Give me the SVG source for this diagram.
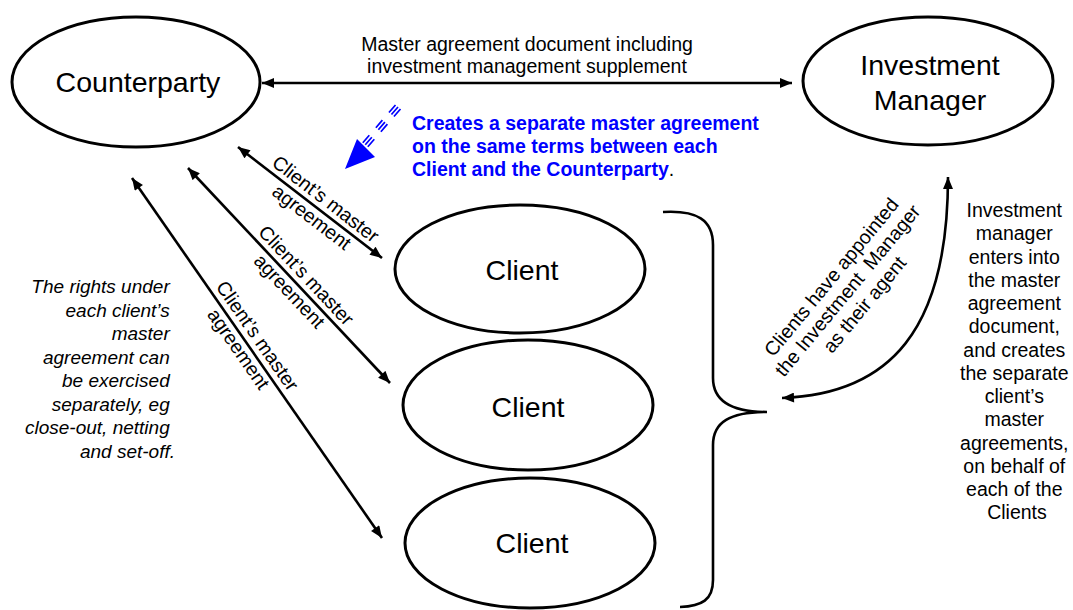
<svg xmlns="http://www.w3.org/2000/svg" width="1073" height="610" viewBox="0 0 1073 610">
<defs>
<style>
.node{fill:#fff;stroke:#000;stroke-width:3}
.nl{font-family:"Liberation Sans",Arial,sans-serif;font-size:28.5px;fill:#000;text-anchor:middle}
.lbl{font-family:"Liberation Sans",Arial,sans-serif;font-size:19.5px;fill:#000;text-anchor:middle}
.conn{fill:none;stroke:#000;stroke-width:2.6}
.blue{font-family:"Liberation Sans",Arial,sans-serif;font-size:19.5px;font-weight:bold;fill:#0000ff}
.ital{font-family:"Liberation Sans",Arial,sans-serif;font-size:19px;font-style:italic;fill:#000;text-anchor:end}
</style>
<marker id="ah" viewBox="0 0 12 10" refX="12" refY="5" markerWidth="13" markerHeight="10" markerUnits="userSpaceOnUse" orient="auto-start-reverse">
<path d="M0,0 L12,5 L0,10 z" fill="#000"/>
</marker>
</defs>
<rect width="1073" height="610" fill="#fff"/>

<g id="connectors">
<line class="conn" x1="262" y1="83" x2="792" y2="83" stroke-width="3" marker-start="url(#ah)" marker-end="url(#ah)"/>
<line class="conn" x1="238" y1="147" x2="382" y2="258" marker-start="url(#ah)" marker-end="url(#ah)"/>
<line class="conn" x1="188" y1="168" x2="390" y2="383" marker-start="url(#ah)" marker-end="url(#ah)"/>
<line class="conn" x1="132" y1="178" x2="382" y2="538" marker-start="url(#ah)" marker-end="url(#ah)"/>
<path class="conn" d="M948,177 C948,330 890,394 782,398" stroke-width="3" marker-start="url(#ah)" marker-end="url(#ah)"/>
<path class="conn" d="M663,212 C697,210 713,220 713,245 L713,378 C713,400 730,412 767,412 C730,412 713,422 713,445 L713,580 C713,600 702,606 680,607" stroke-width="3"/>
<g id="blue-arrow" stroke="#0000ff" stroke-width="1.7" stroke-dasharray="10 10">
<line x1="395.5" y1="105" x2="362" y2="143.7"/>
<line x1="398" y1="107" x2="364.5" y2="145.7"/>
<line x1="400.5" y1="109" x2="367" y2="147.7"/>
</g>
<polygon points="345,169 357,139 375,157" fill="#0000ff"/>
</g>

<g id="counterparty">
<ellipse class="node" cx="136" cy="82" rx="124" ry="65"/>
<text class="nl" x="138" y="92">Counterparty</text>
</g>
<g id="investment-manager">
<ellipse class="node" cx="928" cy="81" rx="125" ry="64"/>
<text class="nl" x="930" y="75">Investment</text>
<text class="nl" x="930" y="110">Manager</text>
</g>
<g id="client1">
<ellipse class="node" cx="520" cy="269" rx="125" ry="64"/>
<text class="nl" x="522" y="280">Client</text>
</g>
<g id="client2">
<ellipse class="node" cx="528" cy="405" rx="125" ry="65"/>
<text class="nl" x="528" y="417">Client</text>
</g>
<g id="client3">
<ellipse class="node" cx="530" cy="543" rx="125" ry="65"/>
<text class="nl" x="532" y="553">Client</text>
</g>

<g id="labels">
<text class="lbl" x="527" y="51">Master agreement document including</text>
<text class="lbl" x="527" y="73">investment management supplement</text>

<g transform="translate(318,209) rotate(37.6)">
<text class="lbl" x="0" y="-6">Client’s master</text>
<text class="lbl" x="0" y="17">agreement</text>
</g>
<g transform="translate(297,284) rotate(46.8)">
<text class="lbl" x="0" y="-6">Client’s master</text>
<text class="lbl" x="0" y="17">agreement</text>
</g>
<g transform="translate(247,343) rotate(55.2)">
<text class="lbl" x="0" y="-6">Client’s master</text>
<text class="lbl" x="0" y="17">agreement</text>
</g>

<g transform="translate(848,291) rotate(-50.4)">
<text class="lbl" x="0" y="-15">Clients have appointed</text>
<text class="lbl" x="0" y="6" xml:space="preserve">the Investment  Manager</text>
<text class="lbl" x="0" y="28">as their agent</text>
</g>

<text class="blue" x="412" y="130">Creates a separate master agreement</text>
<text class="blue" x="412" y="153">on the same terms between each</text>
<text class="blue" x="412" y="176">Client and the Counterparty<tspan fill="#000" font-weight="normal">.</tspan></text>

<text class="ital">
<tspan x="175" y="293">The rights under</tspan>
<tspan x="175" y="316.5">each client’s</tspan>
<tspan x="175" y="340">master</tspan>
<tspan x="175" y="363.5">agreement can</tspan>
<tspan x="175" y="387">be exercised</tspan>
<tspan x="175" y="410.5">separately, eg</tspan>
<tspan x="175" y="434">close-out, netting</tspan>
<tspan x="175" y="458">and set-off.</tspan>
</text>

<text class="lbl">
<tspan x="1017" y="217">Investment</tspan>
<tspan x="1017" y="240.2">manager</tspan>
<tspan x="1017" y="263.5">enters into</tspan>
<tspan x="1017" y="286.7">the master</tspan>
<tspan x="1017" y="310">agreement</tspan>
<tspan x="1017" y="333.2">document,</tspan>
<tspan x="1017" y="356.5">and creates</tspan>
<tspan x="1017" y="379.7">the separate</tspan>
<tspan x="1017" y="403">client’s</tspan>
<tspan x="1017" y="426.2">master</tspan>
<tspan x="1017" y="449.5">agreements,</tspan>
<tspan x="1017" y="472.7">on behalf of</tspan>
<tspan x="1017" y="496">each of the</tspan>
<tspan x="1017" y="519">Clients</tspan>
</text>
</g>
</svg>
